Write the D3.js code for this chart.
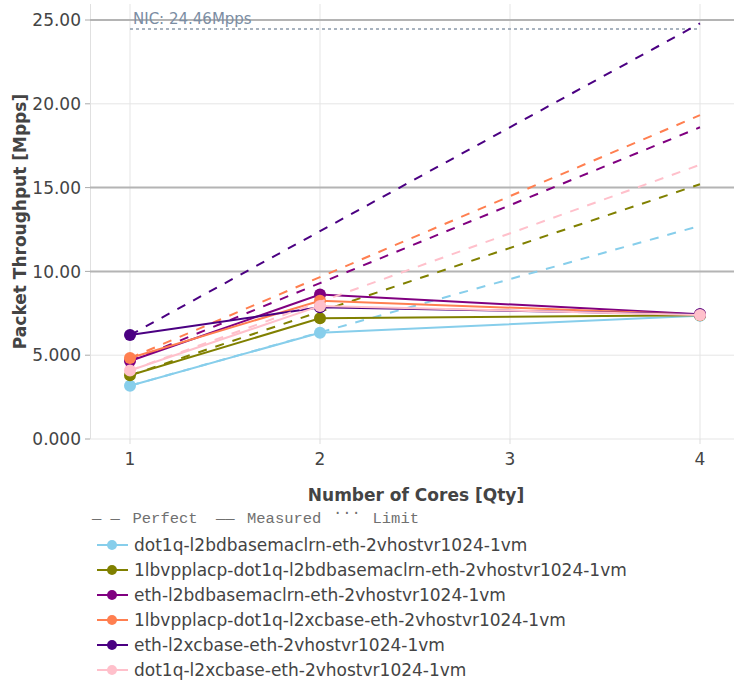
<!DOCTYPE html>
<html>
<head>
<meta charset="utf-8">
<script src="https://cdn.jsdelivr.net/npm/d3@7"></script>
<style>
  html, body { margin: 0; padding: 0; background: #fff; }
  svg { display: block; }
</style>
</head>
<body>
<div id="chart"></div>
<script>
// ---- Data ----
const cores = [1, 2, 4];
const xTicks = [1, 2, 3, 4];
const yTicks = [0, 5, 10, 15, 20, 25];
const yTickLabels = ["0.000", "5.000", "10.00", "15.00", "20.00", "25.00"];
const limitLines = [10, 15, 25];
const seriesNames = [
  "dot1q-l2bdbasemaclrn-eth-2vhostvr1024-1vm",
  "1lbvpplacp-dot1q-l2bdbasemaclrn-eth-2vhostvr1024-1vm",
  "eth-l2bdbasemaclrn-eth-2vhostvr1024-1vm",
  "1lbvpplacp-dot1q-l2xcbase-eth-2vhostvr1024-1vm",
  "eth-l2xcbase-eth-2vhostvr1024-1vm",
  "dot1q-l2xcbase-eth-2vhostvr1024-1vm"
];
const seriesColors = ["#87CEEB", "#808000", "#800080", "#FF7F50", "#4B0082", "#FFC0CB"];
const measured = [
  [3.18, 6.34, 7.36],
  [3.80, 7.20, 7.39],
  [4.65, 8.62, 7.44],
  [4.83, 8.25, 7.42],
  [6.20, 7.86, 7.45],
  [4.09, 7.94, 7.40]
];
const perfect = [
  [3.18, 6.36, 12.72],
  [3.80, 7.60, 15.20],
  [4.65, 9.30, 18.60],
  [4.83, 9.66, 19.32],
  [6.20, 12.40, 24.80],
  [4.09, 8.18, 16.36]
];
const nicLimit = 24.46;
const nicLabel = "NIC: 24.46Mpps";

// ---- Layout ----
const W = 734, H = 683;
const plot = { left: 90, right: 734, top: 4, bottom: 439 };
const FS = 17;

const svg = d3.select("#chart").append("svg")
  .attr("width", W).attr("height", H)
  .attr("font-family", "DejaVu Sans, sans-serif");

const x = d3.scaleLinear().domain([1, 4]).range([130, 700]);
const y = d3.scaleLinear().domain([0, 25]).range([439, 20]);

// gridlines
const g = svg.append("g");
g.selectAll("line.vg").data(xTicks).enter().append("line")
  .attr("x1", d => x(d)).attr("x2", d => x(d))
  .attr("y1", plot.top).attr("y2", plot.bottom)
  .attr("stroke", "#e5e5e5").attr("stroke-width", 1);
g.selectAll("line.hg").data(yTicks).enter().append("line")
  .attr("x1", plot.left).attr("x2", plot.right)
  .attr("y1", d => y(d)).attr("y2", d => y(d))
  .attr("stroke", "#e5e5e5").attr("stroke-width", 1);
// left axis line
g.append("line").attr("x1", plot.left + 0.5).attr("x2", plot.left + 0.5)
  .attr("y1", plot.top).attr("y2", plot.bottom)
  .attr("stroke", "#e0e0e0").attr("stroke-width", 1);
// darker reference lines
g.selectAll("line.ref").data(limitLines).enter().append("line")
  .attr("x1", plot.left).attr("x2", plot.right)
  .attr("y1", d => y(d)).attr("y2", d => y(d))
  .attr("stroke", "#b4b4b4").attr("stroke-width", 2);

// y ticks + labels
g.selectAll("line.yt").data(yTicks).enter().append("line")
  .attr("x1", plot.left - 5).attr("x2", plot.left)
  .attr("y1", d => y(d)).attr("y2", d => y(d))
  .attr("stroke", "#aaa").attr("stroke-width", 1);
g.selectAll("text.yl").data(yTicks).enter().append("text")
  .attr("x", plot.left - 9).attr("y", d => y(d))
  .attr("dy", "0.36em").attr("text-anchor", "end")
  .attr("font-size", FS).attr("fill", "#444")
  .text((d, i) => yTickLabels[i]);

// x ticks + labels
g.selectAll("line.xt").data(xTicks).enter().append("line")
  .attr("x1", d => x(d)).attr("x2", d => x(d))
  .attr("y1", plot.bottom).attr("y2", plot.bottom + 5)
  .attr("stroke", "#ddd").attr("stroke-width", 1);
g.selectAll("text.xl").data(xTicks).enter().append("text")
  .attr("x", d => x(d)).attr("y", 459)
  .attr("dy", "0.36em").attr("text-anchor", "middle")
  .attr("font-size", FS).attr("fill", "#444")
  .text(d => d);

// axis titles
svg.append("text")
  .attr("transform", `translate(20,${(plot.top + plot.bottom) / 2}) rotate(-90)`)
  .attr("text-anchor", "middle").attr("dy", "0.36em")
  .attr("font-size", FS).attr("font-weight", "bold").attr("fill", "#444")
  .text("Packet Throughput [Mpps]");
svg.append("text")
  .attr("x", 416).attr("y", 495)
  .attr("text-anchor", "middle").attr("dy", "0.36em")
  .attr("font-size", FS).attr("font-weight", "bold").attr("fill", "#444")
  .text("Number of Cores [Qty]");

// NIC limit
svg.append("line")
  .attr("x1", x(1)).attr("x2", x(4))
  .attr("y1", y(nicLimit)).attr("y2", y(nicLimit))
  .attr("stroke", "#8c9aab").attr("stroke-width", 1.5)
  .attr("stroke-dasharray", "3,3");
svg.append("text")
  .attr("x", x(1) + 3).attr("y", 19).attr("dy", "0.36em")
  .attr("font-size", 15).attr("fill", "#7b8da3")
  .text(nicLabel);

// series
const line = d3.line().x((d, i) => x(cores[i])).y(d => y(d));
const sg = svg.append("g");
seriesNames.forEach((name, i) => {
  sg.append("path").datum(perfect[i])
    .attr("d", line).attr("fill", "none")
    .attr("stroke", seriesColors[i]).attr("stroke-width", 2)
    .attr("stroke-dasharray", "9,9");
  sg.append("path").datum(measured[i])
    .attr("d", line).attr("fill", "none")
    .attr("stroke", seriesColors[i]).attr("stroke-width", 2);
  sg.selectAll(null).data(measured[i]).enter().append("circle")
    .attr("cx", (d, j) => x(cores[j])).attr("cy", d => y(d))
    .attr("r", 6).attr("fill", seriesColors[i]);
});

// legend header
const lh = svg.append("g").attr("font-family", "Liberation Mono, Courier New, monospace")
  .attr("font-size", 15.5).attr("fill", "#707070");
[["— —", 92, 517], ["Perfect", 132.5, 517], ["——", 216, 517], ["Measured", 247, 517], ["···", 333, 511], ["Limit", 372.5, 517]]
  .forEach(([t, tx, ty]) => {
    lh.append("text").attr("x", tx).attr("y", ty).attr("dy", "0.36em").text(t);
  });

// legend items
const lg = svg.append("g");
seriesNames.forEach((name, i) => {
  const ly = 545 + i * 25;
  lg.append("line").attr("x1", 97).attr("x2", 128).attr("y1", ly).attr("y2", ly)
    .attr("stroke", seriesColors[i]).attr("stroke-width", 2);
  lg.append("circle").attr("cx", 112).attr("cy", ly).attr("r", 5).attr("fill", seriesColors[i]);
  lg.append("text").attr("x", 134).attr("y", ly).attr("dy", "0.36em")
    .attr("font-size", FS).attr("fill", "#444").text(name);
});
</script>
</body>
</html>
